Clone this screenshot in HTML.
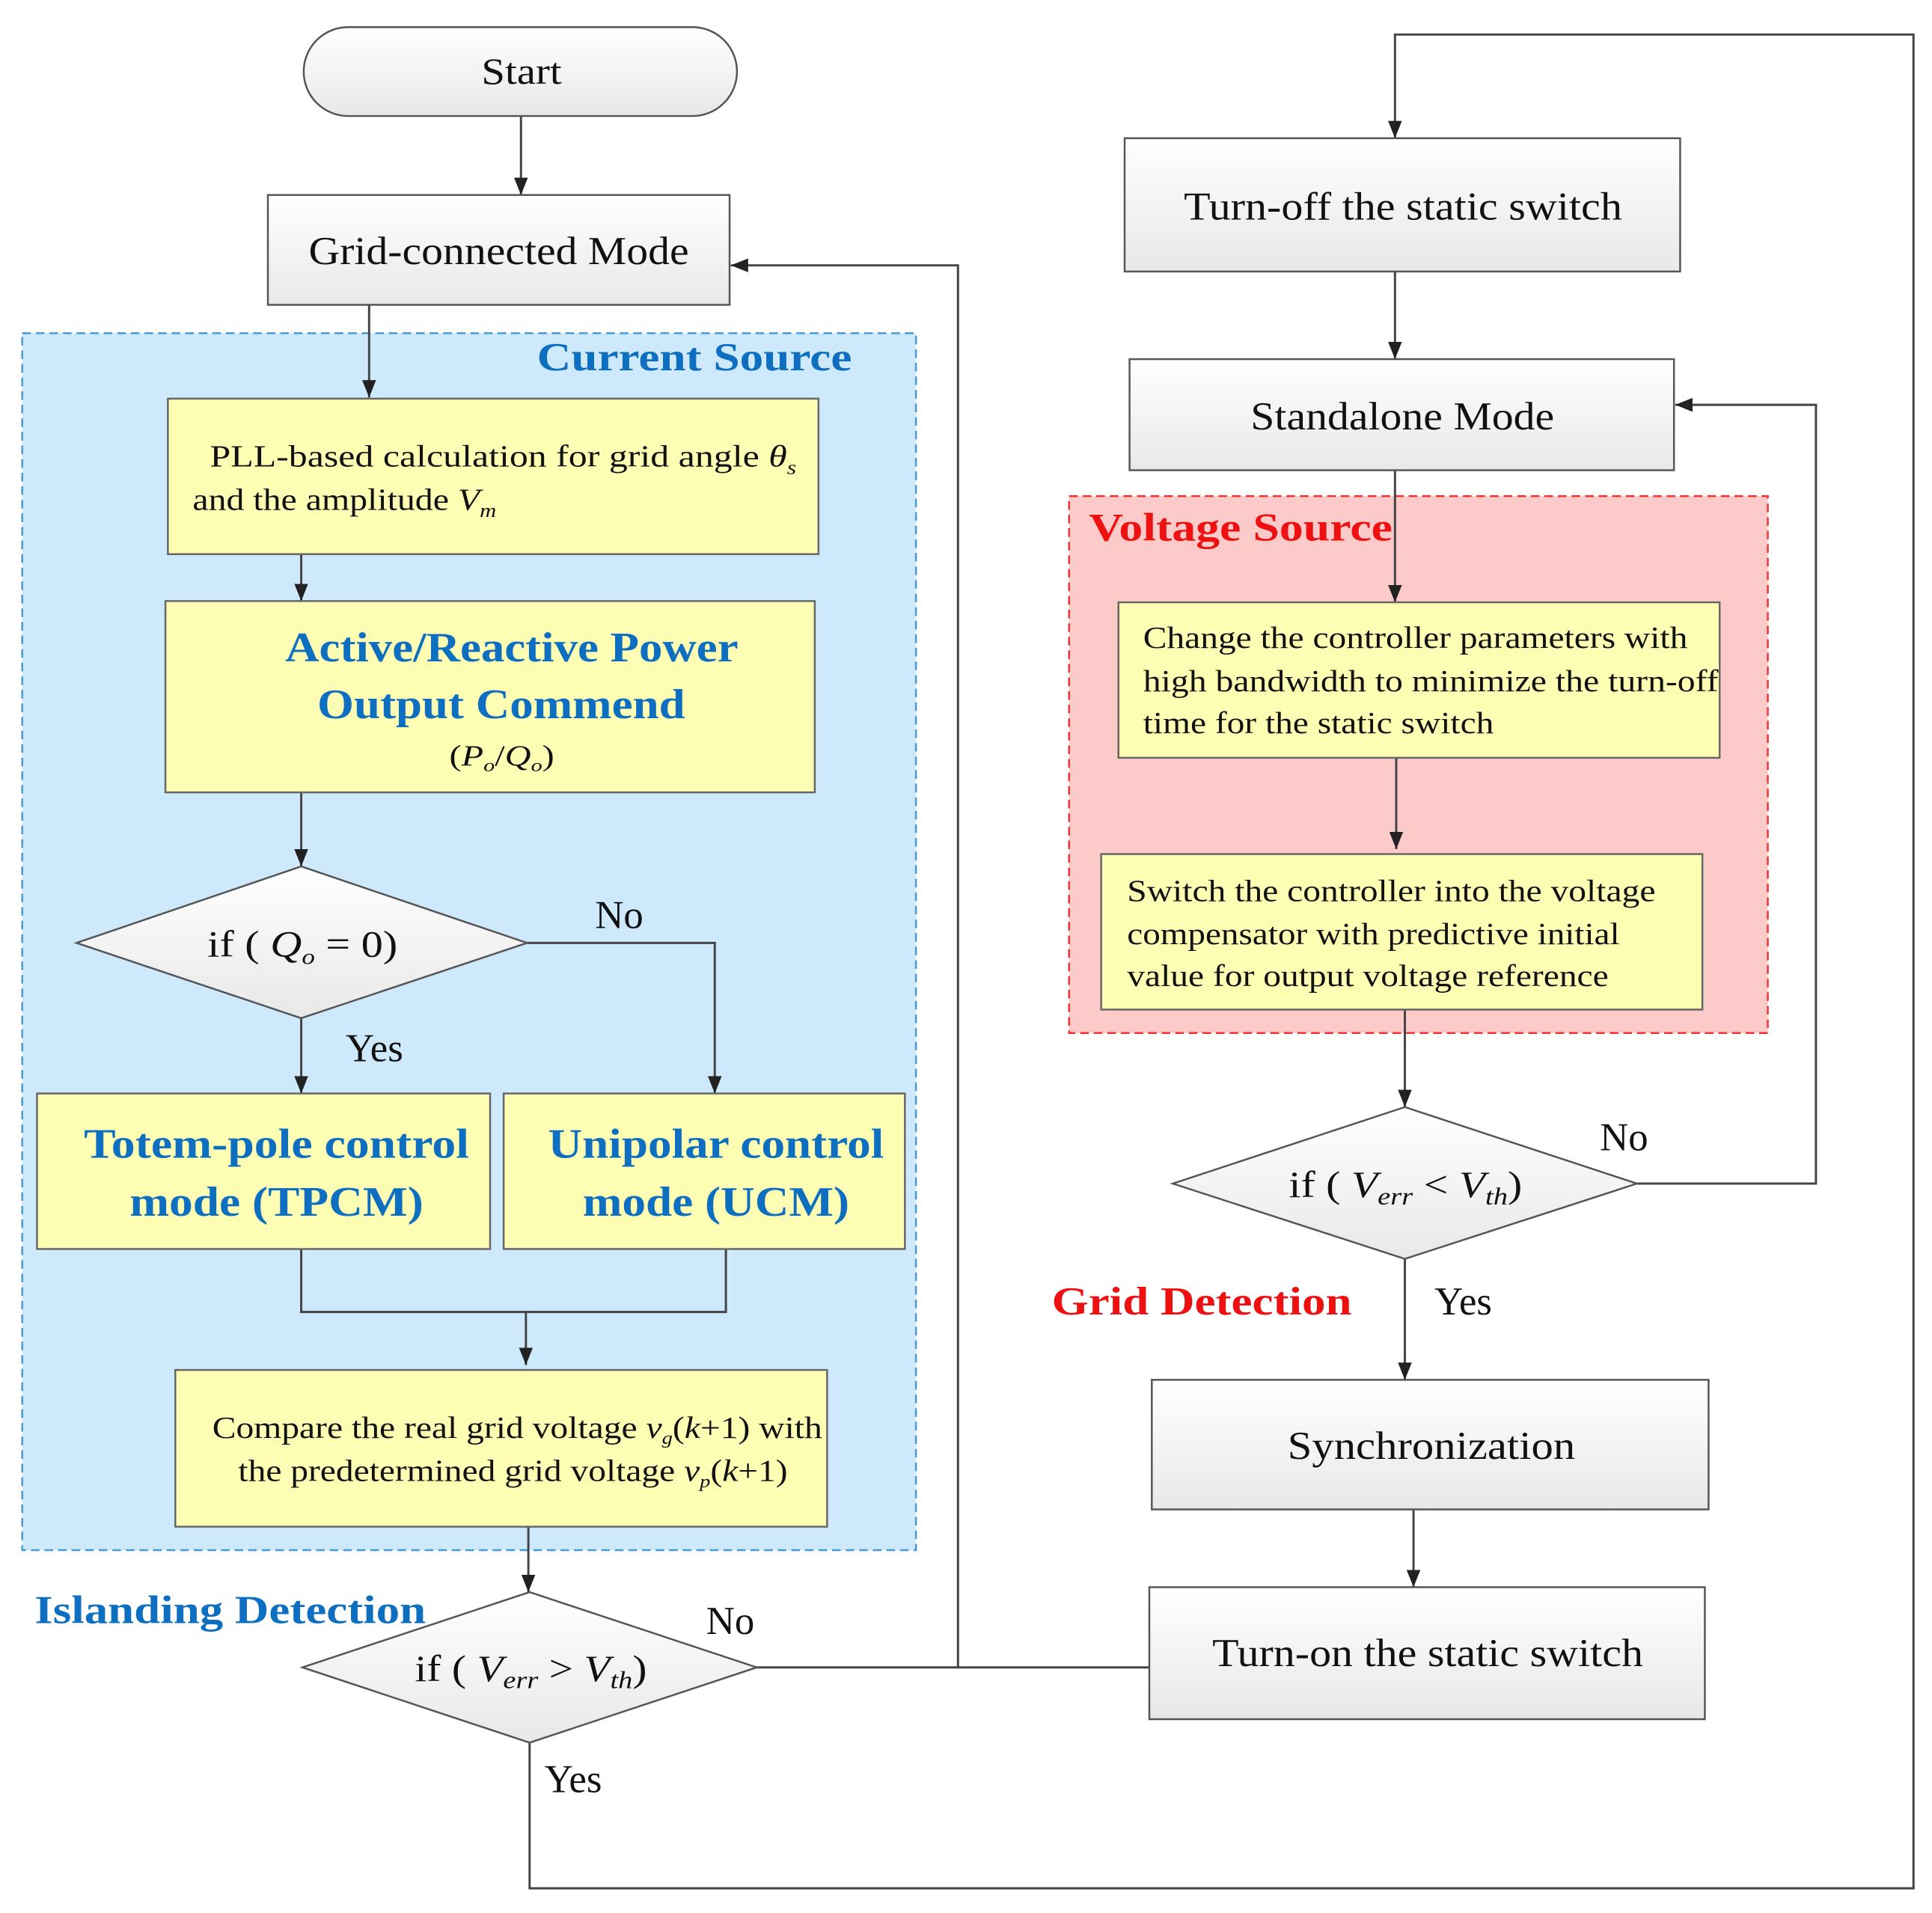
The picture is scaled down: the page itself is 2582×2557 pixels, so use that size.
<!DOCTYPE html>
<html><head><meta charset="utf-8"><style>
html,body{margin:0;padding:0;background:#fff;}
svg{display:block;}
text{font-family:"Liberation Serif","Times New Roman","DejaVu Serif",serif;fill:#111;}
.b{font-weight:bold;}
</style></head><body>
<svg width="2582" height="2557" viewBox="0 0 1565 1550" preserveAspectRatio="none" xmlns="http://www.w3.org/2000/svg" font-family="Liberation Serif, serif">
<defs>
<linearGradient id="g" x1="0" y1="0" x2="0" y2="1"><stop offset="0" stop-color="#ffffff"/><stop offset="1" stop-color="#e8e8e8"/></linearGradient>
<marker id="A" viewBox="0 0 10 10" refX="10" refY="5" markerWidth="14" markerHeight="14" markerUnits="userSpaceOnUse" orient="auto"><path d="M0,1 L10,5 L0,9 z" fill="#222"/></marker>
</defs>
<rect x="18" y="270" width="724" height="986" fill="#cde9fb" stroke="#4a9ad6" stroke-width="1.5" stroke-dasharray="7,4"/>
<rect x="866" y="402" width="566" height="435" fill="#fdcaca" stroke="#ee3333" stroke-width="1.5" stroke-dasharray="7,4"/>
<text x="435" y="300" font-size="32" class="b" style="fill:#0e6fc0" textLength="255" lengthAdjust="spacingAndGlyphs">Current Source</text>
<text x="882" y="438" font-size="32" class="b" style="fill:#ee1111" textLength="246" lengthAdjust="spacingAndGlyphs">Voltage Source</text>
<text x="28" y="1315" font-size="32" class="b" style="fill:#0e6fc0" textLength="317" lengthAdjust="spacingAndGlyphs">Islanding Detection</text>
<text x="852" y="1065" font-size="32" class="b" style="fill:#ee1111" textLength="243" lengthAdjust="spacingAndGlyphs">Grid Detection</text>

<g stroke="#444" stroke-width="1.8" fill="none">
<line x1="422" y1="94" x2="422" y2="158" marker-end="url(#A)"/>
<line x1="299" y1="247" x2="299" y2="322" marker-end="url(#A)"/>
<line x1="244" y1="449" x2="244" y2="487" marker-end="url(#A)"/>
<line x1="244" y1="642" x2="244" y2="702" marker-end="url(#A)"/>
<polyline points="427,764 579,764 579,886" marker-end="url(#A)"/>
<line x1="244" y1="825" x2="244" y2="886" marker-end="url(#A)"/>
<polyline points="244,1012 244,1063 588,1063 588,1012"/>
<line x1="426" y1="1063" x2="426" y2="1106" marker-end="url(#A)"/>
<line x1="428" y1="1237" x2="428" y2="1290" marker-end="url(#A)"/>
<line x1="613" y1="1351" x2="931" y2="1351"/>
<polyline points="776,1351 776,215 592,215" marker-end="url(#A)"/>
<polyline points="429,1412 429,1530 1550,1530 1550,28 1130,28 1130,112" marker-end="url(#A)"/>
<line x1="1130" y1="220" x2="1130" y2="291" marker-end="url(#A)"/>
<line x1="1130" y1="381" x2="1130" y2="488" marker-end="url(#A)"/>
<line x1="1131" y1="614" x2="1131" y2="688" marker-end="url(#A)"/>
<line x1="1138" y1="818" x2="1138" y2="897" marker-end="url(#A)"/>
<polyline points="1326,959 1471,959 1471,328 1357,328" marker-end="url(#A)"/>
<line x1="1138" y1="1020" x2="1138" y2="1118" marker-end="url(#A)"/>
<line x1="1145" y1="1223" x2="1145" y2="1286" marker-end="url(#A)"/>
</g>

<g stroke="#555" stroke-width="1.5" fill="url(#g)">
<rect x="246" y="22" width="351" height="72" rx="36"/>
<rect x="217" y="158" width="374" height="89"/>
<rect x="911" y="112" width="450" height="108"/>
<rect x="915" y="291" width="441" height="90"/>
<rect x="933" y="1118" width="451" height="105"/>
<rect x="931" y="1286" width="450" height="107"/>
<polygon points="62,764 244,702 427,764 244,825"/>
<polygon points="245,1351 429,1290 613,1351 429,1412"/>
<polygon points="950,959 1138,897 1326,959 1138,1020"/>
</g>
<g stroke="#666" stroke-width="1.5" fill="#fdfdb4">
<rect x="136" y="323" width="527" height="126"/>
<rect x="134" y="487" width="526" height="155"/>
<rect x="30" y="886" width="367" height="126"/>
<rect x="408" y="886" width="325" height="126"/>
<rect x="142" y="1110" width="528" height="127"/>
<rect x="906" y="488" width="487" height="126"/>
<rect x="892" y="692" width="487" height="126"/>
</g>

<text x="390" y="68" font-size="30" textLength="65" lengthAdjust="spacingAndGlyphs">Start</text>
<text x="250" y="214" font-size="32" textLength="308" lengthAdjust="spacingAndGlyphs">Grid-connected Mode</text>
<text x="170" y="378" font-size="25" textLength="475" lengthAdjust="spacingAndGlyphs">PLL-based calculation for  grid angle <tspan font-style="italic">θ</tspan><tspan font-style="italic" font-size="16" dy="6">s</tspan></text>
<text x="156" y="413" font-size="25" textLength="246" lengthAdjust="spacingAndGlyphs">and the amplitude <tspan font-style="italic">V</tspan><tspan font-style="italic" font-size="16" dy="6">m</tspan></text>
<text x="231" y="536" font-size="34" class="b" style="fill:#0e6fc0" textLength="367" lengthAdjust="spacingAndGlyphs">Active/Reactive Power</text>
<text x="257" y="582" font-size="34" class="b" style="fill:#0e6fc0" textLength="298" lengthAdjust="spacingAndGlyphs">Output Commend</text>
<text x="364" y="620" font-size="24" textLength="85" lengthAdjust="spacingAndGlyphs">(<tspan font-style="italic">P</tspan><tspan font-size="15" font-style="italic" dy="5">o</tspan><tspan dy="-5">/</tspan><tspan font-style="italic">Q</tspan><tspan font-size="15" font-style="italic" dy="5">o</tspan><tspan dy="-5">)</tspan></text>
<text x="168" y="775" font-size="30" textLength="154" lengthAdjust="spacingAndGlyphs">if ( <tspan font-style="italic">Q</tspan><tspan font-size="18" font-style="italic" dy="6">o</tspan><tspan dy="-6"> = 0)</tspan></text>
<text x="482" y="752" font-size="32">No</text>
<text x="280" y="860" font-size="32">Yes</text>
<text x="68" y="938" font-size="34" class="b" style="fill:#0e6fc0" textLength="312" lengthAdjust="spacingAndGlyphs">Totem-pole control</text>
<text x="105" y="985" font-size="34" class="b" style="fill:#0e6fc0" textLength="238" lengthAdjust="spacingAndGlyphs">mode (TPCM)</text>
<text x="444" y="938" font-size="34" class="b" style="fill:#0e6fc0" textLength="272" lengthAdjust="spacingAndGlyphs">Unipolar control</text>
<text x="472" y="985" font-size="34" class="b" style="fill:#0e6fc0" textLength="216" lengthAdjust="spacingAndGlyphs">mode (UCM)</text>
<text x="172" y="1165" font-size="25" textLength="494" lengthAdjust="spacingAndGlyphs">Compare the real grid voltage <tspan font-style="italic">v</tspan><tspan font-size="15" font-style="italic" dy="5">g</tspan><tspan dy="-5">(</tspan><tspan font-style="italic">k</tspan>+1) with</text>
<text x="193" y="1200" font-size="25" textLength="445" lengthAdjust="spacingAndGlyphs">the predetermined grid voltage <tspan font-style="italic">v</tspan><tspan font-size="15" font-style="italic" dy="5">p</tspan><tspan dy="-5">(</tspan><tspan font-style="italic">k</tspan>+1)</text>
<text x="336" y="1362" font-size="30" textLength="188" lengthAdjust="spacingAndGlyphs">if ( <tspan font-style="italic">V</tspan><tspan font-size="20" font-style="italic" dy="6">err</tspan><tspan dy="-6"> &gt; </tspan><tspan font-style="italic">V</tspan><tspan font-size="20" font-style="italic" dy="6">th</tspan><tspan dy="-6">)</tspan></text>
<text x="572" y="1324" font-size="32">No</text>
<text x="441" y="1452" font-size="32">Yes</text>
<text x="959" y="178" font-size="32" textLength="355" lengthAdjust="spacingAndGlyphs">Turn-off the static switch</text>
<text x="1013" y="348" font-size="32" textLength="246" lengthAdjust="spacingAndGlyphs">Standalone Mode</text>
<text x="926" y="525" font-size="25" textLength="441" lengthAdjust="spacingAndGlyphs">Change the controller parameters with</text>
<text x="926" y="560" font-size="25" textLength="466" lengthAdjust="spacingAndGlyphs">high bandwidth to minimize the turn-off</text>
<text x="926" y="594" font-size="25" textLength="284" lengthAdjust="spacingAndGlyphs">time for the static switch</text>
<text x="913" y="730" font-size="25" textLength="428" lengthAdjust="spacingAndGlyphs">Switch the controller into the voltage</text>
<text x="913" y="765" font-size="25" textLength="399" lengthAdjust="spacingAndGlyphs">compensator with predictive initial</text>
<text x="913" y="799" font-size="25" textLength="390" lengthAdjust="spacingAndGlyphs">value for output voltage reference</text>
<text x="1044" y="970" font-size="30" textLength="189" lengthAdjust="spacingAndGlyphs">if ( <tspan font-style="italic">V</tspan><tspan font-size="20" font-style="italic" dy="6">err</tspan><tspan dy="-6"> &lt; </tspan><tspan font-style="italic">V</tspan><tspan font-size="20" font-style="italic" dy="6">th</tspan><tspan dy="-6">)</tspan></text>
<text x="1296" y="932" font-size="32">No</text>
<text x="1162" y="1065" font-size="32">Yes</text>
<text x="1043" y="1182" font-size="32" textLength="233" lengthAdjust="spacingAndGlyphs">Synchronization</text>
<text x="982" y="1350" font-size="32" textLength="349" lengthAdjust="spacingAndGlyphs">Turn-on the static switch</text>
</svg>
</body></html>
